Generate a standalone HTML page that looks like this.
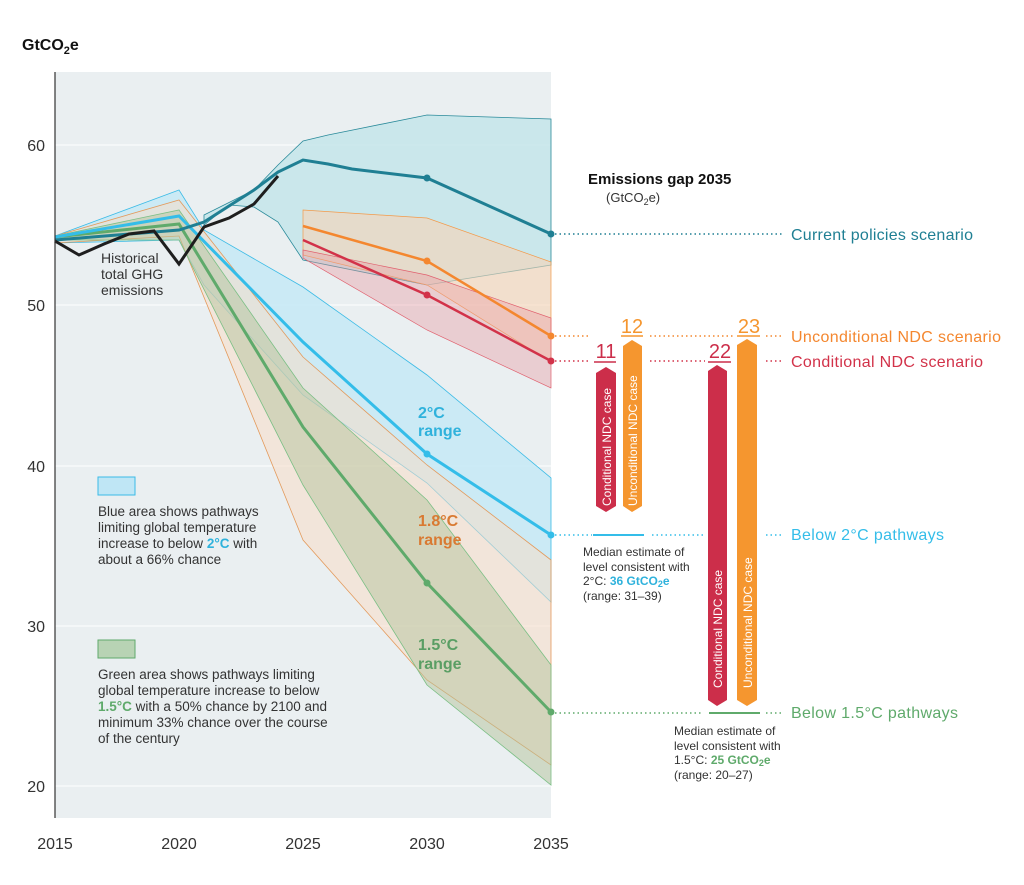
<!DOCTYPE html>
<html><head><meta charset="utf-8"><style>
body{margin:0;background:#fff}
svg{display:block;font-family:"Liberation Sans",sans-serif}
</style></head><body>
<svg width="1024" height="885" viewBox="0 0 1024 885">
<rect x="55" y="72" width="496" height="746" fill="#eaeff1"/>
<g stroke="#fff" stroke-width="1"><line x1="55" x2="551" y1="145" y2="145"/><line x1="55" x2="551" y1="305" y2="305"/><line x1="55" x2="551" y1="466" y2="466"/><line x1="55" x2="551" y1="626" y2="626"/><line x1="55" x2="551" y1="786" y2="786"/></g>
<polygon points="204,215 254,190 278,165 303,141 328,135 427,115 551,119 551,265 427,285 303,260 278,222 254,207 229,205 204,225" fill="#c2e5ea" fill-opacity="0.8" stroke="#2a8a9a" stroke-width="0.8"/>
<polygon points="55,236 179,190 204,230 303,287 427,375 551,478 551,602 427,483 303,395 204,285 179,240 55,243" fill="#c6e9f6" fill-opacity="0.85" stroke="#3bbbe6" stroke-width="0.8"/>
<polygon points="55,236 179,200 303,357 427,465 551,560 551,765 427,680 303,540 179,236 55,243" fill="#f7dcc6" fill-opacity="0.55" stroke="#e39a5c" stroke-width="0.8"/>
<polygon points="55,236 179,210 303,388 427,500 551,665 551,785 427,685 303,485 179,240 55,240" fill="#b4c39c" fill-opacity="0.5" stroke="#7bbf85" stroke-width="0.8"/>
<polygon points="303,210 427,218 551,262 551,362 427,285 303,255" fill="#f7d4b6" fill-opacity="0.6" stroke="#f39a4a" stroke-width="0.7"/>
<polygon points="303,250 427,275 551,318 551,388 427,330 303,258" fill="#e99aa2" fill-opacity="0.4" stroke="#e0606e" stroke-width="0.7"/>
<polyline points="55,237 179,224 303,427 427,583 551,712" fill="none" stroke="#5faa6b" stroke-width="3"/>
<polyline points="55,237 179,216 303,342 427,454 551,535" fill="none" stroke="#34bde9" stroke-width="3"/>
<polyline points="303,240 427,295 551,361" fill="none" stroke="#d23249" stroke-width="2.5"/>
<polyline points="303,226 427,261 551,336" fill="none" stroke="#f4872f" stroke-width="2.5"/>
<polyline points="55,240 179,230 204,222 229,206 254,190 278,172 303,160 328,164 352,169 427,178 551,234" fill="none" stroke="#1f7f93" stroke-width="3"/>
<polyline points="55,241 79,255 104,244 129,234 154,231 179,264 204,227 229,218 254,204 278,176" fill="none" stroke="#1e1e1e" stroke-width="3"/>
<g><circle cx="427" cy="178" r="3.5" fill="#1f7f93"/><circle cx="551" cy="234" r="3.5" fill="#1f7f93"/>
<circle cx="427" cy="261" r="3.5" fill="#f4872f"/><circle cx="551" cy="336" r="3.5" fill="#f4872f"/>
<circle cx="427" cy="295" r="3.5" fill="#d23249"/><circle cx="551" cy="361" r="3.5" fill="#d23249"/>
<circle cx="427" cy="454" r="3.5" fill="#34bde9"/><circle cx="551" cy="535" r="3.5" fill="#34bde9"/>
<circle cx="427" cy="583" r="3.5" fill="#5faa6b"/><circle cx="551" cy="712" r="3.5" fill="#5faa6b"/></g>
<line x1="55" y1="72" x2="55" y2="818" stroke="#333" stroke-width="1.2"/>
<g font-size="16" fill="#333" text-anchor="end"><text x="45" y="151">60</text><text x="45" y="311">50</text><text x="45" y="472">40</text><text x="45" y="632">30</text><text x="45" y="792">20</text></g>
<g font-size="16" fill="#333" text-anchor="middle"><text x="55" y="849">2015</text><text x="179" y="849">2020</text><text x="303" y="849">2025</text><text x="427" y="849">2030</text><text x="551" y="849">2035</text></g>
<text x="22" y="50" font-size="16" font-weight="bold" fill="#111">GtCO<tspan font-size="11" dy="4">2</tspan><tspan dy="-4">e</tspan></text>
<g font-size="14" fill="#333"><text x="101" y="263">Historical</text><text x="101" y="279">total GHG</text><text x="101" y="295">emissions</text></g>
<g font-size="16" font-weight="bold"><text x="418" y="418" fill="#2fb2dc">2°C</text><text x="418" y="436" fill="#2fb2dc">range</text>
<text x="418" y="526" fill="#d97a32">1.8°C</text><text x="418" y="545" fill="#d97a32">range</text>
<text x="418" y="650" fill="#5a9e64">1.5°C</text><text x="418" y="669" fill="#5a9e64">range</text></g>
<rect x="98" y="477" width="37" height="18" fill="#bfe6f5" stroke="#3bbbe6"/>
<g font-size="13.5" fill="#333"><text x="98" y="516">Blue area shows pathways</text><text x="98" y="532">limiting global temperature</text><text x="98" y="548">increase to below <tspan fill="#2fb2dc" font-weight="bold">2°C</tspan> with</text><text x="98" y="564">about a 66% chance</text></g>
<rect x="98" y="640" width="37" height="18" fill="#b8d3b4" stroke="#5faa6b"/>
<g font-size="13.5" fill="#333"><text x="98" y="679">Green area shows pathways limiting</text><text x="98" y="695">global temperature increase to below</text><text x="98" y="711"><tspan fill="#5faa6b" font-weight="bold">1.5°C</tspan> with a 50% chance by 2100 and</text><text x="98" y="727">minimum 33% chance over the course</text><text x="98" y="743">of the century</text></g>
<text x="588" y="184" font-size="15" font-weight="bold" fill="#111">Emissions gap 2035</text>
<text x="606" y="202" font-size="13" fill="#333">(GtCO<tspan font-size="9" dy="3">2</tspan><tspan dy="-3">e)</tspan></text>
<g stroke-width="1.5" stroke-dasharray="1.5 3">
<line x1="555" x2="782" y1="234" y2="234" stroke="#1f7f93"/>
<line x1="555" x2="590" y1="336" y2="336" stroke="#f4872f"/><line x1="650" x2="733" y1="336" y2="336" stroke="#f4872f"/><line x1="766" x2="782" y1="336" y2="336" stroke="#f4872f"/>
<line x1="555" x2="590" y1="361" y2="361" stroke="#d23249"/><line x1="650" x2="705" y1="361" y2="361" stroke="#d23249"/><line x1="766" x2="782" y1="361" y2="361" stroke="#d23249"/>
<line x1="555" x2="592" y1="535" y2="535" stroke="#34bde9"/><line x1="652" x2="705" y1="535" y2="535" stroke="#34bde9"/><line x1="766" x2="782" y1="535" y2="535" stroke="#34bde9"/>
<line x1="555" x2="703" y1="713" y2="713" stroke="#5faa6b"/><line x1="766" x2="782" y1="713" y2="713" stroke="#5faa6b"/></g>
<line x1="593" x2="644" y1="535" y2="535" stroke="#34bde9" stroke-width="2"/>
<line x1="709" x2="760" y1="713" y2="713" stroke="#5faa6b" stroke-width="2"/>
<g font-size="16"><text x="791" y="240" fill="#1f7f93" textLength="182">Current policies scenario</text>
<text x="791" y="342" fill="#f4872f" textLength="210">Unconditional NDC scenario</text>
<text x="791" y="367" fill="#d23249" textLength="192">Conditional NDC scenario</text>
<text x="791" y="540" fill="#34bde9" textLength="153">Below 2°C pathways</text>
<text x="791" y="718" fill="#5faa6b" textLength="167">Below 1.5°C pathways</text></g>
<polygon points="596,373 606,367 616,373 616,506 606,512 596,506" fill="#cc2e4a"/>
<polygon points="623,346 632,340 642,346 642,506 632,512 623,506" fill="#f5962f"/>
<polygon points="708,371 717,365 727,371 727,700 717,706 708,700" fill="#cc2e4a"/>
<polygon points="737,345 747,339 757,345 757,700 747,706 737,700" fill="#f5962f"/>
<g font-size="12" fill="#fff"><text transform="translate(611,506) rotate(-90)">Conditional NDC case</text><text transform="translate(637,506) rotate(-90)">Unconditional NDC case</text>
<text transform="translate(722,688) rotate(-90)">Conditional NDC case</text><text transform="translate(752,688) rotate(-90)">Unconditional NDC case</text></g>
<g font-size="20" text-anchor="middle"><text x="606" y="358" fill="#cc2e4a">11</text><text x="632" y="333" fill="#f5962f">12</text><text x="720" y="358" fill="#cc2e4a">22</text><text x="749" y="333" fill="#f5962f">23</text></g>
<g stroke-width="1.5"><line x1="594" x2="616" y1="362" y2="362" stroke="#cc2e4a"/><line x1="621" x2="643" y1="336" y2="336" stroke="#f5962f"/><line x1="708" x2="731" y1="362" y2="362" stroke="#cc2e4a"/><line x1="737" x2="760" y1="336" y2="336" stroke="#f5962f"/></g>
<g font-size="12" fill="#333"><text x="583" y="556">Median estimate of</text><text x="583" y="571">level consistent with</text><text x="583" y="585">2°C: <tspan fill="#2fb2dc" font-weight="bold">36 GtCO<tspan font-size="9" dy="2">2</tspan><tspan dy="-2">e</tspan></tspan></text><text x="583" y="600">(range: 31–39)</text>
<text x="674" y="735">Median estimate of</text><text x="674" y="750">level consistent with</text><text x="674" y="764">1.5°C: <tspan fill="#5faa6b" font-weight="bold">25 GtCO<tspan font-size="9" dy="2">2</tspan><tspan dy="-2">e</tspan></tspan></text><text x="674" y="779">(range: 20–27)</text></g>
</svg>
</body></html>
